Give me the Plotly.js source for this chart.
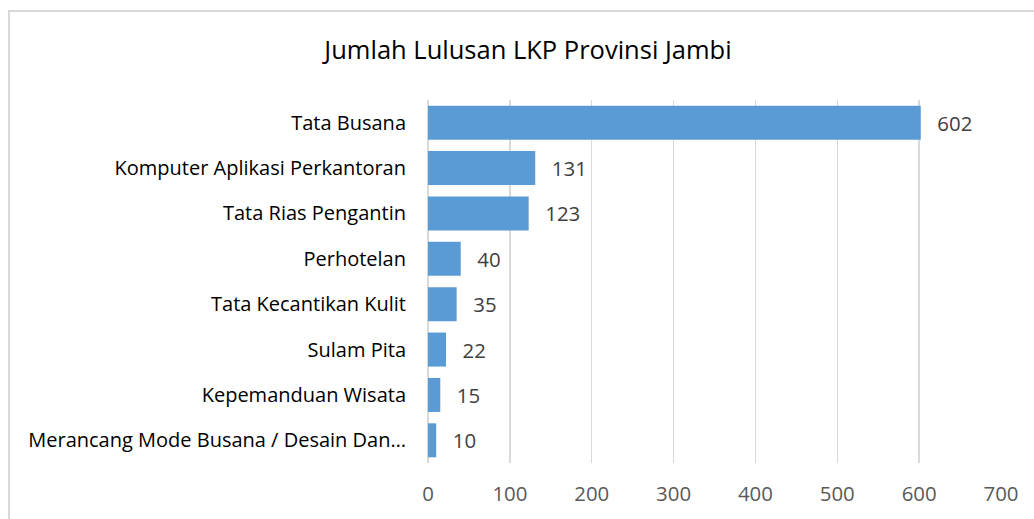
<!DOCTYPE html>
<html><head><meta charset="utf-8">
<script src="https://cdn.plot.ly/plotly-3.0.1.min.js"></script>
<style>
html,body{margin:0;padding:0;background:#fff;width:1034px;height:519px;overflow:hidden;}
#frame{position:absolute;left:8px;top:10px;width:1040px;height:520px;border:2px solid #d9d9d9;}
#chart{position:absolute;left:0;top:0;width:1034px;height:519px;}
</style></head>
<body>
<div id="frame"></div>
<div id="chart"></div>
<script>
const categories = [
  "Tata Busana",
  "Komputer Aplikasi Perkantoran",
  "Tata Rias Pengantin",
  "Perhotelan",
  "Tata Kecantikan Kulit",
  "Sulam Pita",
  "Kepemanduan Wisata",
  "Merancang Mode Busana / Desain Dan…"
];
const values = [602, 131, 123, 40, 35, 22, 15, 10];
const xTicks = [0, 100, 200, 300, 400, 500, 600, 700];
const chartTitle = "Jumlah Lulusan LKP Provinsi Jambi";

const FONT = "Open Sans, Liberation Sans, sans-serif";

const trace = {
  type: "bar",
  orientation: "h",
  y: categories,
  x: values,
  marker: {color: "#5b9bd5"},
  text: values.map(v => String(v)),
  texttemplate: "\u2002\u2009%{text}",
  textposition: "outside",
  cliponaxis: false,
  textfont: {family: FONT, size: 20.4, color: "#404040"},
  hoverinfo: "none"
};

const layout = {
  width: 1034, height: 519,
  paper_bgcolor: "rgba(0,0,0,0)",
  plot_bgcolor: "rgba(0,0,0,0)",
  margin: {l: 428, r: 33, t: 100, b: 56},
  bargap: 0.25,
  showlegend: false,
  title: {
    text: chartTitle,
    font: {family: FONT, size: 25.5, color: "#000000"},
    x: 528/1034, xanchor: "center", xref: "container",
    y: 1 - 50/519, yanchor: "middle", yref: "container"
  },
  xaxis: {
    range: [0, 700],
    tickvals: xTicks,
    ticktext: xTicks.map(String),
    showgrid: true, gridcolor: "#d9d9d9", gridwidth: 1.5,
    zeroline: true, zerolinecolor: "#d9d9d9", zerolinewidth: 1.5,
    showline: false, ticks: "",
    ticklabelstandoff: 17,
    tickfont: {family: FONT, size: 20.4, color: "#595959"},
    fixedrange: true
  },
  yaxis: {
    autorange: "reversed",
    type: "category",
    showgrid: false, zeroline: false, showline: false,
    ticks: "outside", ticklen: 17, tickcolor: "rgba(0,0,0,0)",
    tickfont: {family: FONT, size: 20, color: "#000000"},
    fixedrange: true
  }
};

Plotly.newPlot("chart", [trace], layout, {displayModeBar: false, staticPlot: true});
</script>
</body></html>
